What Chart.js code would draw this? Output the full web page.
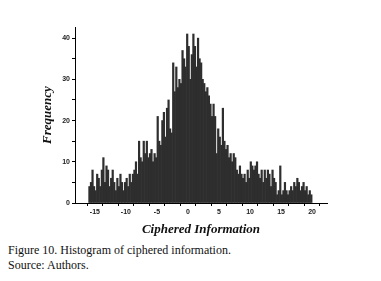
<!DOCTYPE html>
<html>
<head>
<meta charset="utf-8">
<script src="https://cdn.jsdelivr.net/npm/chart.js@4"></script>
<style>
  body { margin: 0; background: #fff; }
  #wrap { position: relative; width: 381px; height: 281px; }
  #box { position: absolute; left: 0; top: 0; width: 381px; height: 240px; }
  .cap { position: absolute; left: 8px; font-family: "Liberation Serif", serif; font-size: 12px; color: #111; }
</style>
</head>
<body>
<div id="wrap">
  <div id="box"><canvas id="histChart"></canvas></div>
  <div class="cap" style="top:243px">Figure 10. Histogram of ciphered information.</div>
  <div class="cap" style="top:258px">Source: Authors.</div>
</div>
<script>
// bins of 0.25 starting at -16
const binStart = -16;
const binWidth = 0.25;
const frequencies = [
  4, 5, 8, 4,     3, 7, 6, 4,     8, 11, 5, 9,    8, 4, 6, 8,
  5, 3, 6, 4,     7, 5, 3, 5,     6, 4, 7, 5,     7, 8, 10, 7,
  15, 11, 10, 15, 12, 15, 11, 12, 13, 10, 12, 11, 21, 15, 14, 20,
  22, 16, 23, 25, 18, 17, 34, 27, 33, 28, 30, 29, 37, 35, 33, 41,
  38, 30, 36, 41, 38, 33, 40, 35, 34, 30, 29, 27, 28, 26, 24, 21,
  24, 21, 12, 18, 16, 14, 23, 15, 13, 14, 11, 12, 10, 12, 11, 8,
  7, 9, 7, 6,     7, 5, 8, 6,     10, 9, 8, 9,    10, 7, 6, 8,
  5, 8, 6, 8,     7, 4, 8, 6,     5, 2, 3, 9,     2, 3, 5, 3,
  2, 3, 4, 3,     5, 4, 6, 5,     3, 4, 5, 3,     4, 2, 3, 2
];
const xTicks = [-17.5, -15, -12.5, -10, -7.5, -5, -2.5, 0, 2.5, 5, 7.5, 10, 12.5, 15, 17.5, 20];
const xLabels = [-15, -10, -5, 0, 5, 10, 15, 20];
const yTicks = [0, 5, 10, 15, 20, 25, 30, 35, 40];
const yLabels = [0, 10, 20, 30, 40];

const puntos = frequencies.map((f, i) => ({ x: binStart + binWidth * (i + 0.5), y: f }));

const fuenteTicks = { family: 'Liberation Sans', size: 7, weight: 'bold' };
const fuenteTitulo = { family: 'Liberation Serif', size: 13, weight: 'bold', style: 'italic' };

const ctx = document.getElementById('histChart').getContext('2d');
new Chart(ctx, {
  type: 'bar',
  data: {
    datasets: [{
      data: puntos,
      backgroundColor: '#2e2e2e',
      borderWidth: 0,
      barPercentage: 1,
      categoryPercentage: 1
    }]
  },
  options: {
    responsive: true,
    maintainAspectRatio: false,
    animation: false,
    layout: { padding: { top: 27, right: 54, left: 0, bottom: 0 } },
    plugins: { legend: { display: false }, tooltip: { enabled: false } },
    scales: {
      x: {
        type: 'linear',
        min: -18.2,
        max: 22.4,
        offset: false,
        afterBuildTicks: (scale) => { scale.ticks = xTicks.map(v => ({ value: v })); },
        afterFit: (scale) => { scale.height = 37; },
        grid: { drawOnChartArea: false, drawTicks: true, tickLength: 3, color: '#000' },
        border: { display: true, color: '#000', width: 1 },
        ticks: {
          autoSkip: false,
          maxRotation: 0,
          padding: 2,
          color: '#222',
          font: fuenteTicks,
          callback: (v) => xLabels.includes(v) ? String(v) : ''
        },
        title: { display: true, text: 'Ciphered Information', color: '#111', font: fuenteTitulo, padding: { top: 4, bottom: 3 } }
      },
      y: {
        min: 0,
        max: 42.7,
        afterBuildTicks: (scale) => { scale.ticks = yTicks.map(v => ({ value: v })); },
        afterFit: (scale) => { scale.width = 75; },
        grid: { drawOnChartArea: false, drawTicks: true, tickLength: 3, color: '#000' },
        border: { display: true, color: '#000', width: 1 },
        ticks: {
          autoSkip: false,
          padding: 2,
          color: '#222',
          font: fuenteTicks,
          callback: (v) => yLabels.includes(v) ? String(v) : ''
        },
        title: { display: true, text: 'Frequency', color: '#111', font: fuenteTitulo, padding: { top: 40, bottom: 0 } }
      }
    }
  }
});
</script>
</body>
</html>
